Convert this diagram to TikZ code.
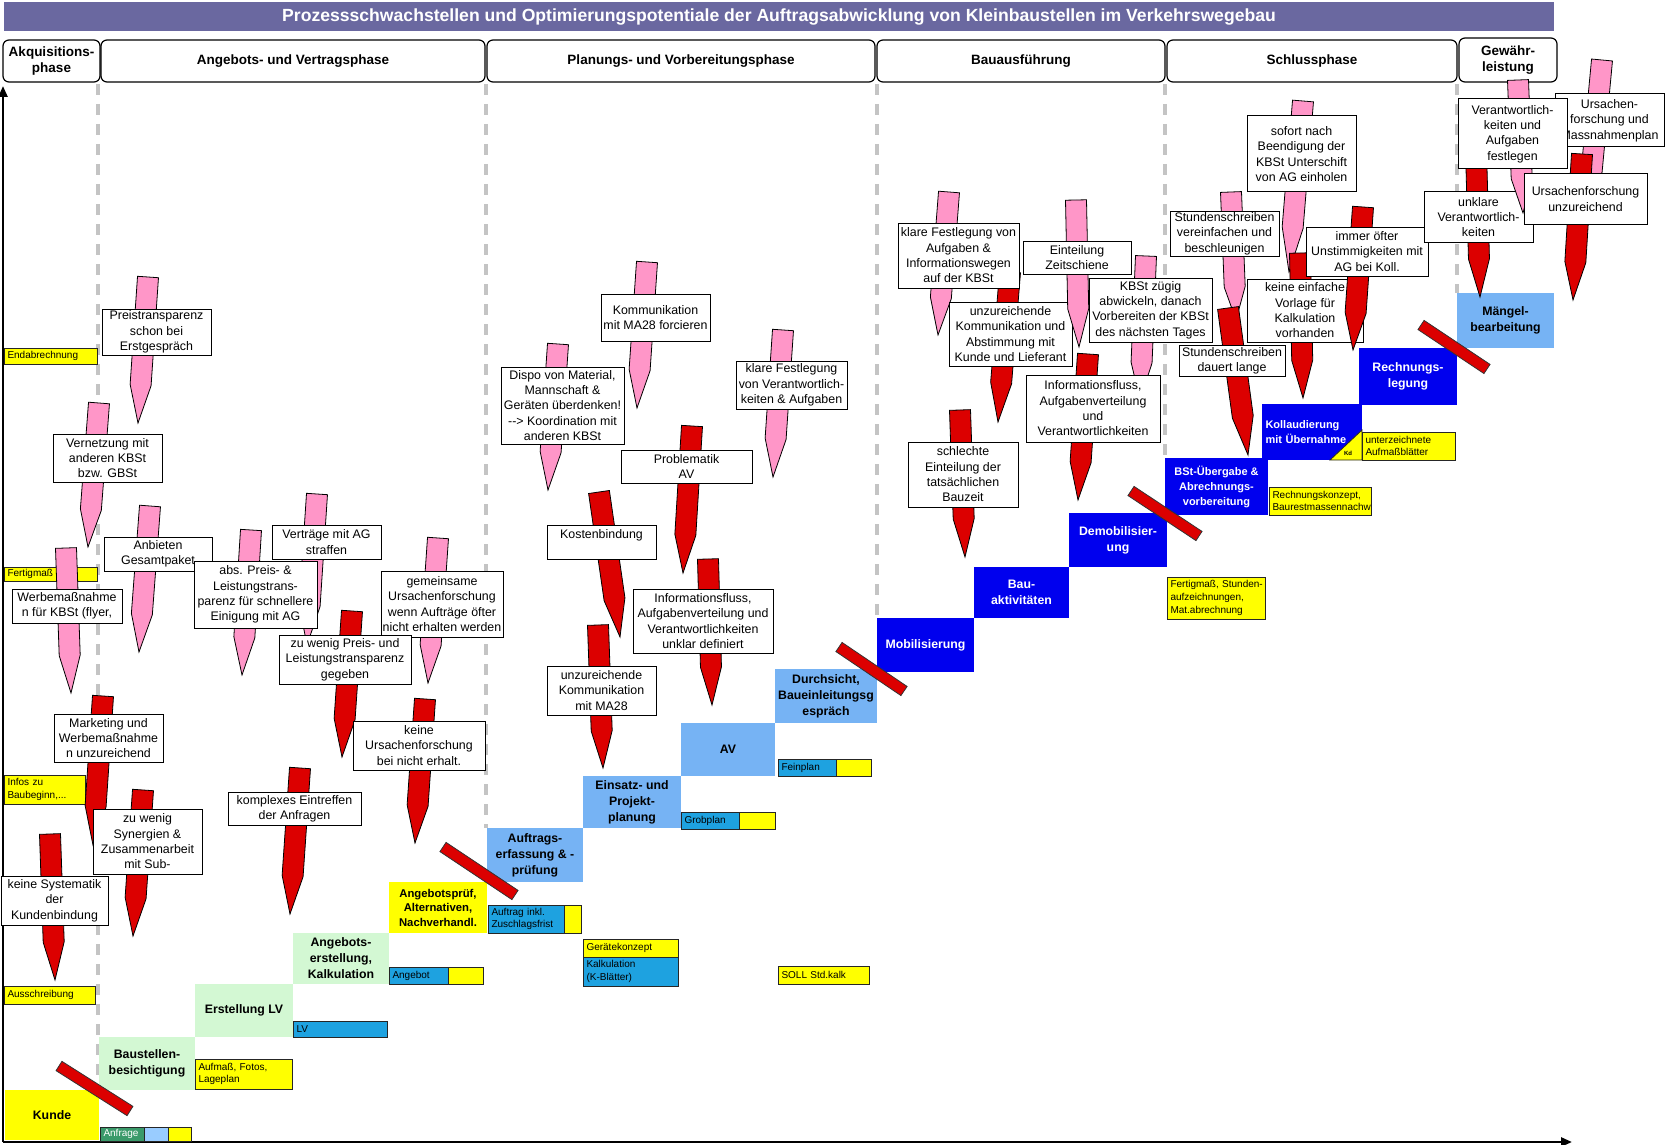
\documentclass[tikz,border=0pt]{standalone}
\usepackage{fontspec}
\setmainfont{Liberation Sans}
\usetikzlibrary{calc,arrows.meta}
\definecolor{titlebg}{HTML}{6A68A0}
\definecolor{pinkc}{HTML}{FF96C8}
\definecolor{redc}{HTML}{DC0000}
\definecolor{darkblue}{HTML}{0000EE}
\definecolor{lightblue}{HTML}{76B3F4}
\definecolor{lightblueb}{HTML}{99CCFF}
\definecolor{lightgreen}{HTML}{D3F8D3}
\definecolor{yel}{HTML}{FFFF00}
\definecolor{docblue}{HTML}{1EA2E0}
\definecolor{docgreen}{HTML}{3A9A6A}
\definecolor{dashgray}{HTML}{C4C4C4}
\tikzset{
 tbox/.style={draw=black,line width=1pt,fill=white,inner sep=0pt,align=center,font=\fontsize{12.4}{15.3}\selectfont},
 stepbox/.style={inner sep=0pt,align=center,font=\fontsize{12.3}{16}\selectfont\bfseries},
 docbox/.style={draw=black!85,line width=1pt,inner xsep=3.5pt,inner ysep=0pt,align=left,font=\fontsize{10}{12.7}\selectfont},
 phasebox/.style={draw=black,line width=1.2pt,rounded corners=6pt,fill=white,inner sep=0pt,align=center,font=\fontsize{13.5}{16.5}\selectfont\bfseries},
 titlebox/.style={fill=titlebg,inner sep=0pt,text=white,font=\fontsize{17.6}{20}\selectfont\bfseries},
 spk/.style={draw=black,line width=0.8pt},
 barst/.style={fill=redc,draw=black!80,line width=0.8pt},
 divider/.style={draw=dashgray,line width=3.5pt,dash pattern=on 11pt off 9pt},
 axisline/.style={draw=black,line width=2.5pt,-{Triangle[length=11pt,width=9pt]}},
}
% box from corners
\newcommand\bx[7][]{%
  \pgfmathsetmacro\bxw{#5-#3}%
  \pgfmathsetmacro\bxh{#6-#4}%
  \pgfmathsetmacro\bxtw{#5-#3-7}%
  \node[#1,minimum width=\bxw pt,minimum height=\bxh pt] (#2) at ({(#3+#5)/2},{(#4+#6)/2}) {#7};}
\newcommand\dbx[7][]{\bx[docbox,text width=\bxtw pt,#1]{#2}{#3}{#4}{#5}{#6}{#7}}
% pointed arrow
\newcommand\spike[5]{%
  \coordinate (sA) at (#2,#3);
  \coordinate (sB) at (#4,#5);
  \coordinate (sM) at ($(sA)!0.74!(sB)$);
  \filldraw[spk,fill=#1] ($(sA)!10.5pt!90:(sB)$) -- ($(sM)!10.5pt!90:(sB)$) -- (sB) -- ($(sM)!10.5pt!-90:(sB)$) -- ($(sA)!10.5pt!-90:(sB)$) -- cycle;}
% red barrier bar
\newcommand\redbar[5]{%
  \coordinate (#1a) at (#2,#3);
  \coordinate (#1b) at (#4,#5);
  \filldraw[barst] ($(#1a)!5.5pt!90:(#1b)$) -- ($(#1b)!5.5pt!-90:(#1a)$) -- ($(#1b)!5.5pt!90:(#1a)$) -- ($(#1a)!5.5pt!-90:(#1b)$) -- cycle;}
\begin{document}
\begin{tikzpicture}[x=1pt,y=-1pt]
\useasboundingbox (0,0) rectangle (1666,1145);
\fill[white] (0,0) rectangle (1666,1145);
% title
\bx[titlebox]{title}{4}{2}{1554}{31}{Prozessschwachstellen und Optimierungspotentiale der Auftragsabwicklung von Kleinbaustellen im Verkehrswegebau}
% dividers
\draw[divider] (98,84) -- (98,1090);
\draw[divider] (486,84) -- (486,828);
\draw[divider] (877,84) -- (877,618);
\draw[divider] (1165,84) -- (1165,458);
\draw[divider] (1457,84) -- (1457,293);
% phases
\bx[phasebox]{ph1}{3}{40}{100}{82}{Akquisitions-\\phase}
\bx[phasebox]{ph2}{101}{40}{485}{82}{Angebots- und Vertragsphase}
\bx[phasebox]{ph3}{487}{40}{875}{82}{Planungs- und Vorbereitungsphase}
\bx[phasebox]{ph4}{877}{40}{1165}{82}{Bauausführung}
\bx[phasebox]{ph5}{1167}{40}{1457}{82}{Schlussphase}
\bx[phasebox]{ph6}{1459}{38}{1557}{82}{Gewähr-\\leistung}
% axes
\coordinate (origin) at (3,1142);
\coordinate (ytop) at (3,86);
\coordinate (xend) at (1572,1142);
\draw[axisline] (origin) -- (ytop);
\draw[axisline] (origin) -- (xend);
% steps
\bx[stepbox,fill=yel]{kunde}{5}{1090}{99}{1140}{Kunde}
\bx[stepbox,fill=lightgreen]{besicht}{99}{1037}{195}{1090}{Baustellen-\\besichtigung}
\bx[stepbox,fill=lightgreen]{erstlv}{195}{984}{293}{1037}{Erstellung LV}
\bx[stepbox,fill=lightgreen]{angerst}{293}{933}{389}{984}{Angebots-\\erstellung,\\Kalkulation}
\bx[stepbox,fill=yel,font=\fontsize{11.3}{14.5}\selectfont\bfseries]{angpruef}{389}{882}{487}{933}{Angebotsprüf,\\Alternativen,\\Nachverhandl.}
\bx[stepbox,fill=lightblue]{auftr}{487}{828}{583}{882}{Auftrags-\\erfassung \& -\\prüfung}
\bx[stepbox,fill=lightblue]{einsatz}{583}{776}{681}{828}{Einsatz- und\\Projekt-\\planung}
\bx[stepbox,fill=lightblue]{av}{681}{723}{775}{776}{AV}
\bx[stepbox,fill=lightblue]{durch}{775}{669}{877}{723}{Durchsicht,\\Baueinleitungsg\\espräch}
\bx[stepbox,fill=darkblue,text=white]{mobil}{877}{618}{974}{672}{Mobilisierung}
\bx[stepbox,fill=darkblue,text=white]{bauakt}{974}{567}{1069}{618}{Bau-\\aktivitäten}
\bx[stepbox,fill=darkblue,text=white]{demob}{1069}{513}{1167}{567}{Demobilisier-\\ung}
\bx[stepbox,fill=darkblue,text=white,font=\fontsize{11}{15}\selectfont\bfseries]{bst}{1165}{458}{1268}{515}{BSt-Übergabe \&\\Abrechnungs-\\vorbereitung}
\bx[stepbox,fill=darkblue,text=white,align=left,text width=\bxtw pt,inner xsep=3.5pt,font=\fontsize{11}{15}\selectfont\bfseries]{koll}{1262}{404}{1362}{460}{Kollaudierung\\mit Übernahme}
\bx[stepbox,fill=darkblue,text=white]{rechn}{1359}{348}{1457}{405}{Rechnungs-\\legung}
\bx[stepbox,fill=lightblue]{maengel}{1457}{293}{1554}{348}{Mängel-\\bearbeitung}
% Kd triangle
\filldraw[fill=yel,draw=black!85,line width=0.8pt] (1330,460) -- (1362,430) -- (1362,460) -- cycle;
\node[inner sep=0pt,font=\fontsize{6}{7}\selectfont\bfseries] (kd) at (1348,453) {Kd};
% documents
\dbx[fill=yel]{dEnd}{4}{348}{97}{364}{Endabrechnung}
\dbx[fill=yel]{dFert}{4}{567}{97}{581}{Fertigmaß}
\dbx[fill=yel]{dInfo}{4}{775}{85}{804}{Infos zu\\Baubeginn,...}
\dbx[fill=yel]{dAus}{4}{986}{95}{1004}{Ausschreibung}
\dbx[fill=docgreen,text=white]{dAnf}{100}{1127}{144}{1141}{Anfrage}
\dbx[fill=lightblueb]{dAnfb}{144}{1127}{168}{1141}{}
\dbx[fill=yel]{dAnfc}{168}{1127}{191}{1141}{}
\dbx[fill=yel]{dAufm}{195}{1059}{292}{1089}{Aufmaß, Fotos,\\Lageplan}
\dbx[fill=docblue]{dLV}{293}{1021}{387}{1037}{LV}
\dbx[fill=docblue]{dAng}{389}{967}{448}{984}{Angebot}
\dbx[fill=yel]{dAngb}{448}{967}{483}{984}{}
\dbx[fill=docblue]{dAuf}{488}{905}{564}{933}{Auftrag inkl.\\\mbox{Zuschlagsfrist}}
\dbx[fill=yel]{dAufb}{564}{905}{581}{933}{}
\dbx[fill=yel]{dGer}{583}{939}{678}{957}{\mbox{Gerätekonzept}}
\dbx[fill=docblue]{dKalk}{583}{957}{678}{986}{Kalkulation\\(K-Blätter)}
\dbx[fill=docblue]{dGrob}{681}{812}{739}{829}{Grobplan}
\dbx[fill=yel]{dGrobb}{739}{812}{775}{829}{}
\dbx[fill=docblue]{dFein}{778}{759}{836}{776}{Feinplan}
\dbx[fill=yel]{dFeinb}{836}{759}{871}{776}{}
\dbx[fill=yel]{dSoll}{778}{966}{869}{984}{SOLL Std.kalk}
\dbx[fill=yel]{dFm}{1167}{577}{1265}{619}{\mbox{Fertigmaß, Stunden-}\\\mbox{aufzeichnungen,}\\\mbox{Mat.abrechnung}}
\dbx[fill=yel]{dRk}{1269}{487}{1371}{515}{\mbox{Rechnungskonzept,}\\\mbox{Baurestmassennachw}}
\dbx[fill=yel]{dUz}{1362}{432}{1455}{460}{\mbox{unterzeichnete}\\\mbox{Aufmaßblätter}}
% barriers
\redbar{rb1}{59}{1066}{130}{1111}
\redbar{rb2}{443}{847}{515}{895}
\redbar{rb3}{839}{647}{904}{691}
\redbar{rb4}{1131}{491}{1199}{536}
\redbar{rb5}{1421}{325}{1487}{369}
% ---- Angebots- und Akquisitionsphase
\spike{pinkc}{148}{277}{138}{423}
\bx[tbox]{b1}{102}{309}{211}{355}{Preistransparenz\\schon bei\\Erstgespräch}
\spike{pinkc}{99}{403}{88}{547}
\bx[tbox]{b2}{53}{434}{162}{482}{Vernetzung mit\\anderen KBSt\\bzw. GBSt}
\spike{pinkc}{66}{548}{71}{693}
\bx[tbox]{b3}{12}{589}{122}{623}{Werbemaßnahme\\n für KBSt (flyer,}
\spike{pinkc}{150}{506}{139}{652}
\bx[tbox]{b4}{104}{537}{212}{571}{Anbieten\\Gesamtpaket}
\spike{pinkc}{317}{494}{307}{645}
\bx[tbox]{b6}{272}{525}{381}{559}{Verträge mit AG\\straffen}
\spike{pinkc}{251}{530}{242}{675}
\bx[tbox]{b5}{194}{561}{317}{628}{abs. Preis- \&\\Leistungstrans-\\parenz für schnellere\\Einigung mit AG}
\spike{pinkc}{438}{538}{428}{683}
\bx[tbox]{b7}{381}{571}{503}{637}{gemeinsame\\Ursachenforschung\\wenn Aufträge öfter\\nicht erhalten werden}
\spike{redc}{352}{611}{342}{757}
\bx[tbox]{b8}{279}{635}{411}{684}{zu wenig Preis- und\\Leistungstransparenz\\gegeben}
\spike{redc}{425}{699}{415}{843}
\bx[tbox]{b13}{353}{721}{485}{770}{keine\\Ursachenforschung\\bei nicht erhalt.}
\spike{redc}{103}{696}{93}{845}
\bx[tbox]{b9}{54}{714}{163}{762}{Marketing und\\Werbemaßnahme\\n unzureichend}
\spike{redc}{143}{790}{133}{936}
\bx[tbox]{b10}{93}{809}{202}{874}{zu wenig\\Synergien \&\\Zusammenarbeit\\mit Sub-}
\spike{redc}{50}{834}{55}{980}
\bx[tbox]{b11}{1}{876}{108}{925}{keine Systematik\\der\\Kundenbindung}
\spike{redc}{300}{768}{290}{914}
\bx[tbox]{b12}{228}{792}{361}{825}{komplexes Eintreffen\\der Anfragen}
% ---- Planungsphase
\spike{pinkc}{647}{262}{637}{408}
\bx[tbox]{b14}{601}{294}{710}{341}{Kommunikation\\mit MA28 forcieren}
\spike{pinkc}{558}{344}{548}{490}
\bx[tbox]{b15}{501}{367}{624}{444}{Dispo von Material,\\Mannschaft \&\\Geräten überdenken!\\-{}-> Koordination mit\\anderen KBSt}
\spike{pinkc}{783}{330}{773}{477}
\bx[tbox]{b16}{736}{361}{847}{409}{klare Festlegung\\von Verantwortlich-\\keiten \& Aufgaben}
\spike{redc}{692}{426}{683}{573}
\bx[tbox]{b17}{621}{450}{752}{483}{Problematik\\AV}
\spike{redc}{599}{492}{620}{637}
\bx[tbox]{b18}{547}{525}{656}{559}{Kostenbindung\\\mbox{}}
\spike{redc}{708}{559}{712}{705}
\bx[tbox]{b19}{633}{589}{773}{653}{Informationsfluss,\\Aufgabenverteilung und\\Verantwortlichkeiten\\unklar definiert}
\spike{redc}{598}{625}{603}{768}
\bx[tbox]{b20}{547}{666}{656}{715}{unzureichende\\Kommunikation\\mit MA28}
% ---- Bauausfuehrung
\spike{redc}{1010}{272}{998}{422}
\spike{pinkc}{949}{192}{938}{335}
\bx[tbox]{b21}{898}{223}{1019}{288}{klare Festlegung von\\Aufgaben \&\\Informationswegen\\auf der KBSt}
\bx[tbox]{b22}{949}{302}{1072}{366}{unzureichende\\Kommunikation und\\Abstimmung mit\\Kunde und Lieferant}
\spike{pinkc}{1076}{200}{1079}{347}
\bx[tbox]{b23}{1023}{241}{1131}{274}{Einteilung\\Zeitschiene}
\spike{pinkc}{1146}{256}{1140}{400}
\bx[tbox]{b25}{1089}{278}{1212}{342}{KBSt zügig\\abwickeln, danach\\Vorbereiten der KBSt\\des nächsten Tages}
\spike{redc}{1088}{354}{1078}{500}
\bx[tbox]{b24}{1026}{375}{1160}{442}{Informationsfluss,\\Aufgabenverteilung\\und\\Verantwortlichkeiten}
\spike{redc}{960}{410}{965}{557}
\bx[tbox]{b26}{908}{442}{1018}{507}{schlechte\\Einteilung der\\tatsächlichen\\Bauzeit}
% ---- Schlussphase
\spike{pinkc}{1231}{192}{1236}{320}
\bx[tbox]{b30}{1170}{211}{1279}{256}{Stundenschreiben\\vereinfachen und\\beschleunigen}
\spike{redc}{1228}{308}{1248}{455}
\bx[tbox]{b31}{1179}{345}{1285}{376}{Stundenschreiben\\dauert lange}
\spike{pinkc}{1303}{101}{1289}{272}
\bx[tbox]{b27}{1247}{116}{1356}{192}{sofort nach\\Beendigung der\\KBSt Unterschift\\von AG einholen}
\spike{redc}{1300}{253}{1303}{398}
\bx[tbox]{b28}{1247}{279}{1363}{342}{keine einfache\\Vorlage für\\Kalkulation\\vorhanden}
\spike{redc}{1363}{207}{1353}{350}
\bx[tbox]{b29}{1306}{227}{1428}{276}{immer öfter\\Unstimmigkeiten mit\\AG bei Koll.}
% ---- Gewaehrleistung
\spike{pinkc}{1602}{60}{1588}{210}
\bx[tbox]{b34}{1555}{94}{1664}{147}{Ursachen-\\forschung und\\Massnahmenplan}
\spike{redc}{1476}{150}{1480}{297}
\bx[tbox]{b33}{1424}{192}{1533}{242}{unklare\\Verantwortlich-\\keiten}
\spike{pinkc}{1518}{80}{1523}{213}
\bx[tbox]{b32}{1458}{99}{1567}{169}{Verantwortlich-\\keiten und\\Aufgaben\\festlegen}
\spike{redc}{1582}{154}{1573}{300}
\bx[tbox]{b35}{1524}{174}{1647}{224}{Ursachenforschung\\unzureichend}
\end{tikzpicture}
\end{document}
